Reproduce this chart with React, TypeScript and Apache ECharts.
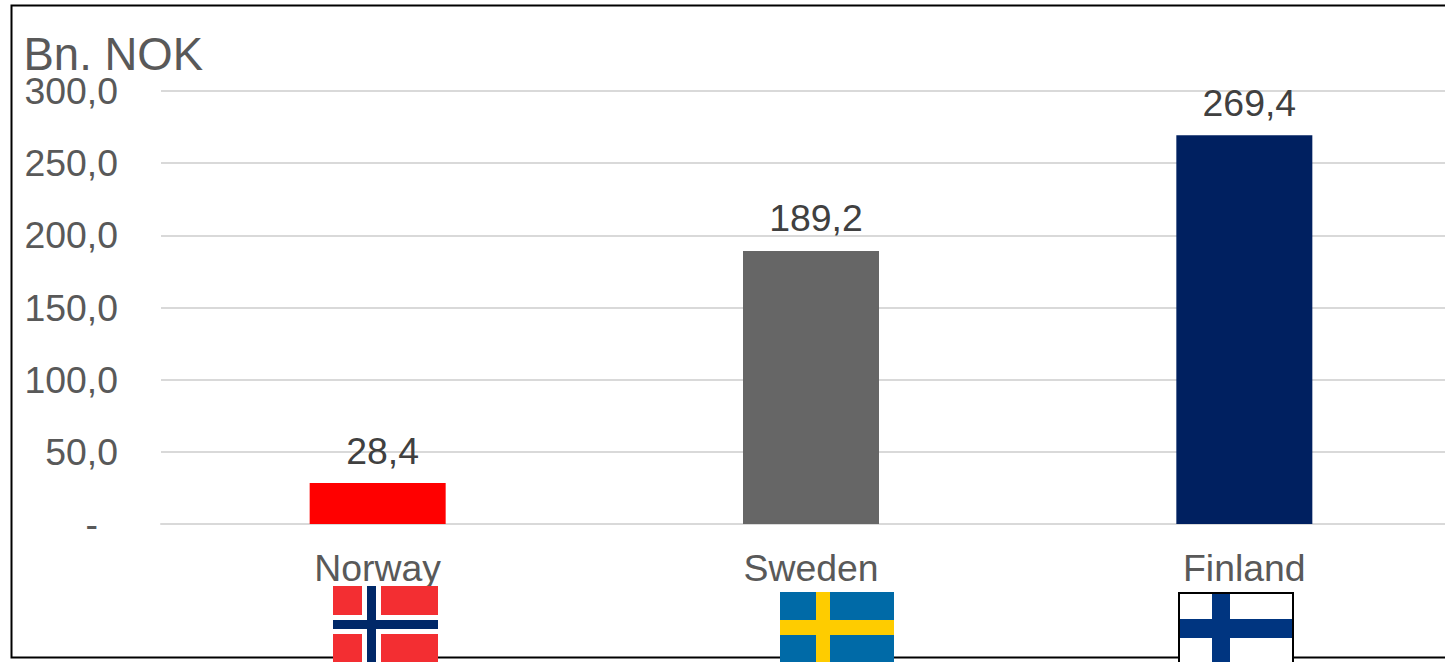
import React, { useEffect, useRef } from "react";
import * as echarts from "echarts";

const categories = ["Norway", "Sweden", "Finland"];
const values = [28.4, 189.2, 269.4];
const barColors = ["#ff0000", "#666666", "#002060"];
const unitLabel = "Bn. NOK";

const FONT = '"Liberation Sans", Arial, sans-serif';
const comma = (v: number) => v.toFixed(1).replace(".", ",");
const r = (x: number, y: number, width: number, height: number, fill: string, z = 10) => ({
  type: "rect", z, silent: true, shape: { x, y, width, height }, style: { fill },
});

export default function App() {
  const ref = useRef<HTMLDivElement>(null);
  useEffect(() => {
    const chart = echarts.init(ref.current!, undefined, { renderer: "svg" });
    chart.setOption({
      animation: false,
      backgroundColor: "#ffffff",
      title: {
        text: unitLabel, left: 18.5, top: 26,
        textStyle: { fontFamily: FONT, fontSize: 45.5, fontWeight: "normal", color: "#595959" },
      },
      grid: { left: 161, right: 0, top: 91, bottom: 138, containLabel: false },
      xAxis: {
        type: "category", data: categories,
        axisLine: { show: true, lineStyle: { color: "#d9d9d9", width: 2 } },
        axisTick: { show: false },
        axisLabel: { fontFamily: FONT, fontSize: 37.4, color: "#595959", margin: 25, interval: 0 },
      },
      yAxis: {
        type: "value", min: 0, max: 300, interval: 50,
        axisLine: { show: false }, axisTick: { show: false },
        splitLine: { lineStyle: { color: "#d9d9d9", width: 2 } },
        axisLabel: {
          fontFamily: FONT, fontSize: 37.4, color: "#595959", margin: 43,
          formatter: (v: number) => (v === 0 ? "{d|-}" : comma(v)),
          rich: { d: { fontFamily: FONT, fontSize: 37.4, color: "#595959", padding: [0, 20, 0, 0] } },
        },
      },
      series: [{
        type: "bar", barWidth: 136,
        data: values.map((value, i) => ({ value, itemStyle: { color: barColors[i] } })),
        label: {
          show: true, position: "top", distance: 13, offset: [5, -1],
          fontFamily: FONT, fontSize: 37.4, color: "#404040",
          formatter: (p: any) => comma(p.value),
        },
      }],
      graphic: [
        { type: "rect", z: 5, silent: true, shape: { x: 11.5, y: 5.5, width: 1500, height: 652 },
          style: { fill: "none", stroke: "#000000", lineWidth: 2 } },
        r(333, 586, 105, 76, "#f32e32"),
        r(362, 586, 19, 76, "#ffffff", 11),
        r(333, 615, 105, 19, "#ffffff", 11),
        r(367, 586, 9, 76, "#002868", 12),
        r(333, 620, 105, 9, "#002868", 12),
        r(780, 592, 114, 70, "#006aa7"),
        r(816, 592, 14, 70, "#fecc00", 11),
        r(780, 620, 114, 15, "#fecc00", 11),
        { type: "rect", z: 10, silent: true, shape: { x: 1179, y: 593, width: 114, height: 80 },
          style: { fill: "#ffffff", stroke: "#000000", lineWidth: 2 } },
        r(1212, 594, 18, 68, "#003580", 11),
        r(1180, 619, 112, 19, "#003580", 11),
      ],
    });
    return () => chart.dispose();
  }, []);
  return (
    <div style={{ position: "fixed", left: 0, top: 0, width: 1445, height: 662, overflow: "hidden" }}>
      <div ref={ref} style={{ width: 1461, height: 662 }} />
    </div>
  );
}
